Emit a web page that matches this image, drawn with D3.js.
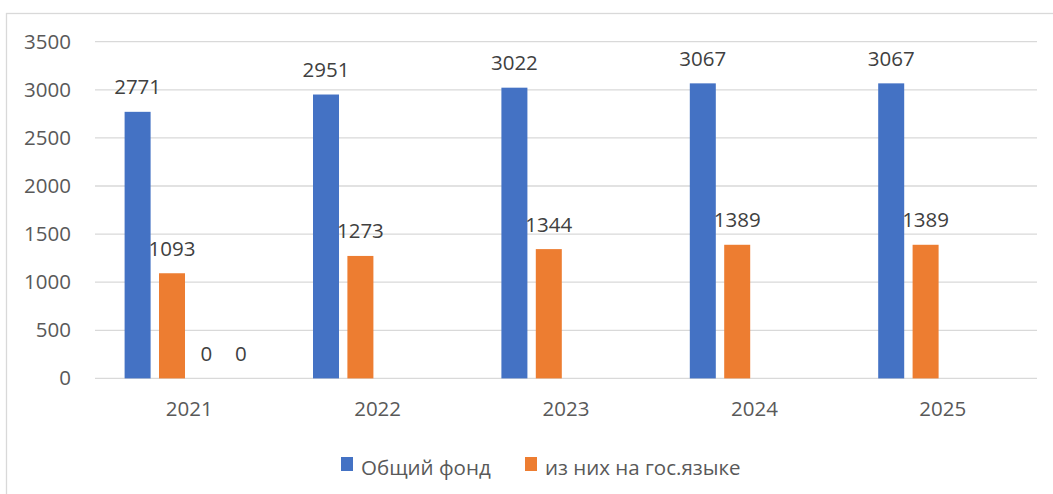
<!DOCTYPE html>
<html>
<head>
<meta charset="utf-8">
<script src="https://cdn.jsdelivr.net/npm/d3@7"></script>
<style>
  body { margin: 0; background: #fff; }
  text { font-family: "Open Sans", "Noto Sans", sans-serif; }
</style>
</head>
<body>
<script>
// chart data
var years = ["2021", "2022", "2023", "2024", "2025"];
var seriesNames = ["Общий фонд", "из них на гос.языке", "s3", "s4"];
var totalFund = [2771, 2951, 3022, 3067, 3067];
var stateLang = [1093, 1273, 1344, 1389, 1389];
var extra1 = [0, null, null, null, null];
var extra2 = [0, null, null, null, null];
var yTicks = [0, 500, 1000, 1500, 2000, 2500, 3000, 3500];
var colors = ["#4472c4", "#ed7d31", "#a5a5a5", "#ffc000"];
var legendItems = [0, 1];

var allSeries = [totalFund, stateLang, extra1, extra2];

var width = 1053, height = 494;
var margin = {top: 41.7, right: 16, bottom: 115.6, left: 95};
var innerW = width - margin.left - margin.right,
    innerH = height - margin.top - margin.bottom;
var fs = "20.5px";

var svg = d3.select("body").append("svg")
    .attr("width", width)
    .attr("height", height);

// chart border
svg.append("rect")
    .attr("x", 6.5).attr("y", 13.5)
    .attr("width", 1060).attr("height", 500)
    .attr("fill", "none")
    .attr("stroke", "#d9d9d9")
    .attr("stroke-width", 1.3);

var g = svg.append("g")
    .attr("transform", "translate(" + margin.left + "," + margin.top + ")");

var x0 = d3.scaleBand()
    .domain(years)
    .range([0, innerW])
    .paddingInner(0).paddingOuter(0);

var outer = 29.6;
var x1 = d3.scaleBand()
    .domain(d3.range(allSeries.length))
    .range([outer, x0.bandwidth() - outer])
    .paddingInner(0.244)
    .paddingOuter(0);

var y = d3.scaleLinear()
    .domain([0, 3500])
    .range([innerH, 0]);

// gridlines
g.append("g")
    .selectAll("line")
    .data(yTicks)
  .enter().append("line")
    .attr("x1", 0).attr("x2", innerW)
    .attr("y1", function(d) { return y(d); })
    .attr("y2", function(d) { return y(d); })
    .attr("stroke", "#d9d9d9")
    .attr("stroke-width", 1.3);

// y axis labels
var yAxis = g.append("g")
    .call(d3.axisLeft(y).tickValues(yTicks).tickFormat(d3.format("d")).tickSize(0).tickPadding(24));
yAxis.select(".domain").remove();
yAxis.selectAll("text")
    .attr("fill", "#595959")
    .style("font-size", fs);

// x axis labels
var xAxis = g.append("g")
    .attr("transform", "translate(0," + innerH + ")")
    .call(d3.axisBottom(x0).tickSize(0).tickPadding(23));
xAxis.select(".domain").remove();
xAxis.selectAll("text")
    .attr("fill", "#595959")
    .style("font-size", fs);

// bars
var groups = g.selectAll(".grp")
    .data(years)
  .enter().append("g")
    .attr("class", "grp")
    .attr("transform", function(d) { return "translate(" + x0(d) + ",0)"; });

groups.each(function(yr, i) {
  var cells = allSeries.map(function(s, k) { return {k: k, v: s[i]}; })
      .filter(function(c) { return c.v !== null; });
  var sel = d3.select(this);
  sel.selectAll("rect")
      .data(cells)
    .enter().append("rect")
      .attr("x", function(c) { return x1(c.k); })
      .attr("y", function(c) { return y(c.v); })
      .attr("width", x1.bandwidth())
      .attr("height", function(c) { return innerH - y(c.v); })
      .attr("fill", function(c) { return colors[c.k]; });
  sel.selectAll("text")
      .data(cells)
    .enter().append("text")
      .attr("x", function(c) { return x1(c.k) + x1.bandwidth() / 2; })
      .attr("y", function(c) { return y(c.v) - 17.5; })
      .attr("text-anchor", "middle")
      .attr("fill", "#404040")
      .style("font-size", fs)
      .text(function(c) { return c.v; });
});

// legend
var legend = svg.append("g")
    .attr("transform", "translate(341,457)");
var legendX = [0, 184];
var li = legend.selectAll("g")
    .data(legendItems)
  .enter().append("g")
    .attr("transform", function(d, i) { return "translate(" + legendX[i] + ",0)"; });
li.append("rect")
    .attr("width", 12).attr("height", 14)
    .attr("fill", function(d) { return colors[d]; });
li.append("text")
    .attr("x", 20).attr("y", 18)
    .attr("fill", "#595959")
    .style("font-size", fs)
    .text(function(d) { return seriesNames[d]; });
</script>
</body>
</html>
